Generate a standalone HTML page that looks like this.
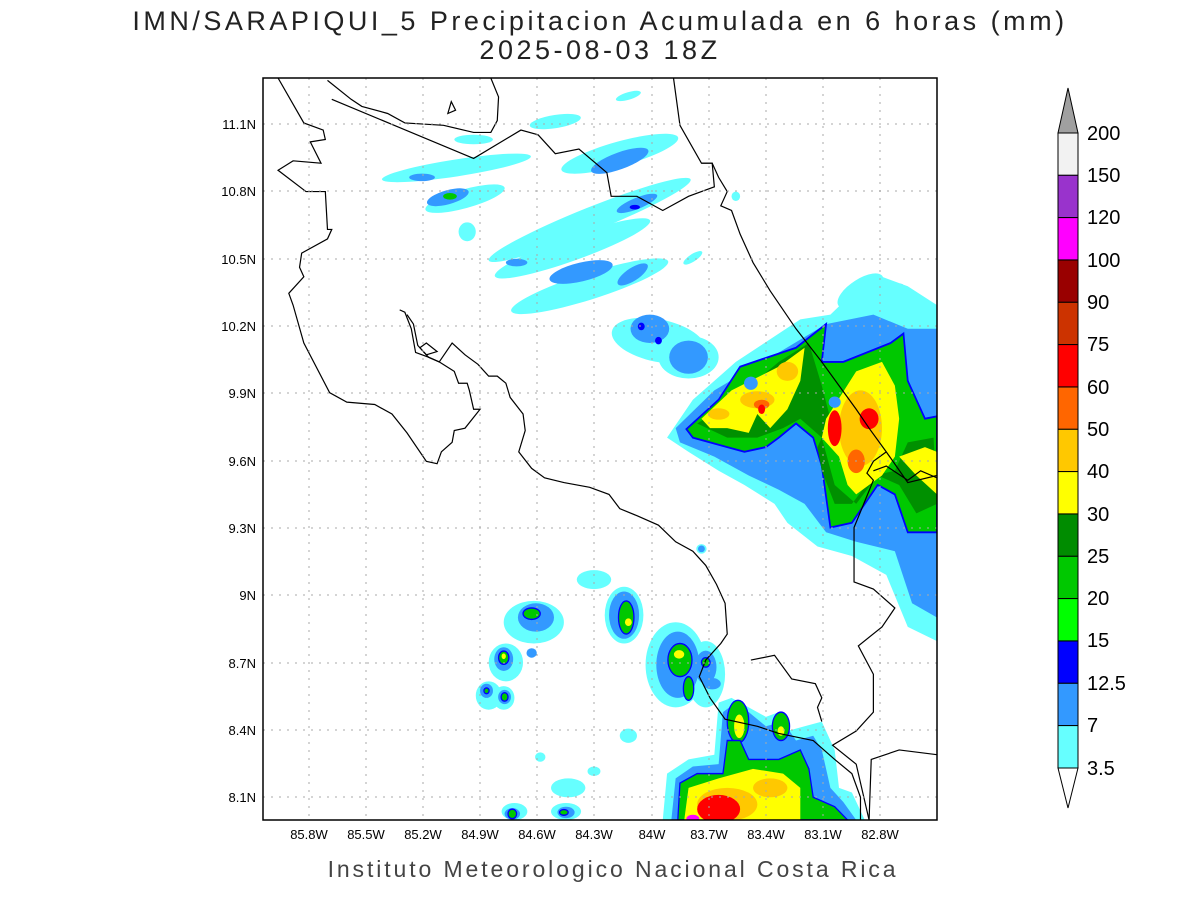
<!DOCTYPE html>
<html><head><meta charset="utf-8"><style>
html,body{margin:0;padding:0;background:#fff;}
svg{display:block;font-family:"Liberation Sans",sans-serif;}
</style></head><body>
<svg width="1200" height="900" viewBox="0 0 1200 900" xmlns="http://www.w3.org/2000/svg">
<rect width="1200" height="900" fill="#fff"/>
<text x="600" y="30" font-size="27" text-anchor="middle" fill="#222" letter-spacing="3.5">IMN/SARAPIQUI_5 Precipitacion Acumulada en 6 horas (mm)</text>
<text x="600" y="59" font-size="27" text-anchor="middle" fill="#222" letter-spacing="3.5">2025-08-03 18Z</text>
<svg x="263" y="78" width="674" height="742" viewBox="0 0 1568 1568" preserveAspectRatio="none" overflow="hidden">
<g>
<g fill="#66ffff">
<ellipse cx="450" cy="190" rx="175" ry="18" transform="rotate(-8 450 190)"/>
<ellipse cx="830" cy="160" rx="140" ry="26" transform="rotate(-14 830 160)"/>
<ellipse cx="470" cy="255" rx="95" ry="20" transform="rotate(-14 470 255)"/>
<ellipse cx="760" cy="300" rx="250" ry="26" transform="rotate(-20 760 300)"/>
<ellipse cx="720" cy="360" rx="190" ry="26" transform="rotate(-18 720 360)"/>
<ellipse cx="760" cy="440" rx="190" ry="28" transform="rotate(-16 760 440)"/>
<ellipse cx="920" cy="555" rx="110" ry="45" transform="rotate(10 920 555)"/>
<ellipse cx="990" cy="590" rx="70" ry="45"/>
<ellipse cx="850" cy="38" rx="30" ry="8" transform="rotate(-15 850 38)"/>
<ellipse cx="490" cy="130" rx="45" ry="10"/>
<ellipse cx="680" cy="92" rx="60" ry="14" transform="rotate(-8 680 92)"/>
<ellipse cx="475" cy="325" rx="20" ry="20"/>
<ellipse cx="1390" cy="450" rx="60" ry="25" transform="rotate(-30 1390 450)"/>
<ellipse cx="1000" cy="380" rx="25" ry="8" transform="rotate(-30 1000 380)"/>
<ellipse cx="1100" cy="250" rx="10" ry="10"/>
</g>
<g fill="#3399ff">
<ellipse cx="370" cy="210" rx="30" ry="8"/>
<ellipse cx="830" cy="175" rx="70" ry="18" transform="rotate(-18 830 175)"/>
<ellipse cx="430" cy="252" rx="50" ry="15" transform="rotate(-14 430 252)"/>
<ellipse cx="870" cy="265" rx="50" ry="12" transform="rotate(-20 870 265)"/>
<ellipse cx="740" cy="410" rx="75" ry="20" transform="rotate(-12 740 410)"/>
<ellipse cx="860" cy="415" rx="40" ry="14" transform="rotate(-30 860 415)"/>
<ellipse cx="590" cy="390" rx="25" ry="8"/>
<ellipse cx="900" cy="530" rx="45" ry="30"/>
<ellipse cx="990" cy="590" rx="45" ry="35"/>
<ellipse cx="1465" cy="455" rx="30" ry="14" transform="rotate(-35 1465 455)"/>
</g>
<g fill="#0000ff"><ellipse cx="880" cy="525" rx="8" ry="8"/><ellipse cx="920" cy="555" rx="8" ry="8"/><ellipse cx="865" cy="273" rx="12" ry="5"/></g>
<ellipse cx="435" cy="250" rx="16" ry="7" fill="#00c800"/>
<polygon fill="#66ffff" points="940,760 1000,680 1100,600 1250,510 1320,500 1400,430 1440,420 1500,440 1568,480 1568,1190 1500,1160 1450,1050 1370,1010 1290,990 1220,940 1190,900 1120,860 1060,830 990,790"/>
<polygon fill="#3399ff" points="960,740 1050,660 1200,580 1310,520 1420,500 1500,530 1568,530 1568,1140 1510,1110 1470,1000 1380,980 1310,960 1260,900 1200,870 1130,840 1050,800 970,770"/>
<polygon fill="#00c800" stroke="#0000ff" stroke-width="4" points="985,742 1060,680 1110,610 1240,570 1310,520 1300,600 1350,600 1460,560 1490,540 1500,640 1540,720 1568,715 1568,960 1500,960 1470,880 1430,860 1370,940 1320,950 1300,820 1280,760 1240,730 1200,760 1170,780 1120,790 1080,780 1000,760"/>
<polygon fill="#009000" points="1010,730 1080,690 1200,600 1270,560 1300,650 1320,720 1290,780 1300,830 1330,900 1370,900 1420,840 1470,830 1500,770 1560,760 1568,900 1520,920 1480,860 1430,840 1380,900 1330,860 1300,760 1250,720 1210,740 1150,760 1080,760"/>
<polygon fill="#ffff00" points="1020,720 1090,660 1200,610 1260,570 1250,640 1220,700 1180,740 1150,710 1130,750 1080,740 1040,740"/>
<polygon fill="#ffff00" points="1310,720 1380,620 1440,600 1470,650 1480,720 1470,800 1440,840 1380,880 1360,860 1340,800 1300,760"/>
<polygon fill="#ffff00" points="1480,800 1540,780 1568,790 1568,880 1520,840"/>
<g fill="#ffc800"><ellipse cx="1150" cy="680" rx="40" ry="18"/><ellipse cx="1220" cy="620" rx="25" ry="20"/><ellipse cx="1390" cy="740" rx="50" ry="80"/><ellipse cx="1060" cy="710" rx="25" ry="12"/></g>
<g fill="#ff6600"><ellipse cx="1380" cy="810" rx="20" ry="25"/><ellipse cx="1160" cy="690" rx="18" ry="10"/></g>
<g fill="#ff0000"><ellipse cx="1330" cy="740" rx="16" ry="38"/><ellipse cx="1410" cy="720" rx="22" ry="22"/><ellipse cx="1160" cy="700" rx="8" ry="10"/></g>
<g fill="#3399ff"><ellipse cx="1135" cy="645" rx="16" ry="14"/><ellipse cx="1330" cy="685" rx="14" ry="12"/></g>
<g fill="#66ffff">
<ellipse cx="770" cy="1060" rx="40" ry="20"/><ellipse cx="630" cy="1150" rx="70" ry="45"/><ellipse cx="840" cy="1135" rx="45" ry="60"/>
<ellipse cx="565" cy="1235" rx="40" ry="40"/><ellipse cx="525" cy="1305" rx="30" ry="30"/><ellipse cx="560" cy="1310" rx="25" ry="25"/>
<ellipse cx="960" cy="1240" rx="70" ry="90"/><ellipse cx="1030" cy="1260" rx="45" ry="70"/><ellipse cx="850" cy="1390" rx="20" ry="15"/>
<ellipse cx="645" cy="1435" rx="12" ry="10"/><ellipse cx="770" cy="1465" rx="15" ry="10"/><ellipse cx="710" cy="1500" rx="40" ry="20"/>
<ellipse cx="585" cy="1550" rx="30" ry="18"/><ellipse cx="705" cy="1550" rx="35" ry="18"/><ellipse cx="1020" cy="995" rx="12" ry="10"/>
<polygon points="930,1568 940,1470 990,1440 1050,1430 1060,1320 1090,1310 1130,1330 1170,1350 1200,1340 1220,1380 1260,1370 1300,1360 1330,1420 1340,1500 1370,1510 1400,1568"/>
</g>
<g fill="#3399ff">
<ellipse cx="635" cy="1140" rx="42" ry="30"/><ellipse cx="840" cy="1135" rx="35" ry="50"/><ellipse cx="560" cy="1228" rx="22" ry="25"/>
<ellipse cx="520" cy="1295" rx="15" ry="15"/><ellipse cx="562" cy="1308" rx="15" ry="15"/><ellipse cx="965" cy="1240" rx="50" ry="70"/>
<ellipse cx="1030" cy="1245" rx="25" ry="35"/><ellipse cx="1045" cy="1280" rx="20" ry="12"/><ellipse cx="625" cy="1215" rx="12" ry="10"/>
<ellipse cx="580" cy="1555" rx="18" ry="12"/><ellipse cx="705" cy="1552" rx="20" ry="12"/><ellipse cx="1020" cy="995" rx="8" ry="7"/>
<polygon points="950,1568 960,1480 1000,1455 1060,1450 1070,1340 1100,1320 1130,1340 1170,1370 1210,1360 1240,1400 1280,1390 1300,1420 1320,1500 1350,1530 1380,1568"/>
</g>
<g fill="#00c800" stroke="#0000ff" stroke-width="3">
<ellipse cx="625" cy="1132" rx="20" ry="12"/><ellipse cx="845" cy="1140" rx="18" ry="35"/><ellipse cx="560" cy="1225" rx="12" ry="14"/>
<ellipse cx="562" cy="1308" rx="8" ry="9"/><ellipse cx="520" cy="1295" rx="6" ry="6"/><ellipse cx="970" cy="1230" rx="28" ry="35"/>
<ellipse cx="990" cy="1290" rx="12" ry="25"/><ellipse cx="1030" cy="1235" rx="10" ry="10"/><ellipse cx="580" cy="1555" rx="10" ry="10"/>
<ellipse cx="700" cy="1552" rx="10" ry="6"/><ellipse cx="1105" cy="1360" rx="25" ry="45"/><ellipse cx="1205" cy="1370" rx="20" ry="30"/>
<polygon points="965,1568 970,1490 1010,1470 1070,1470 1080,1400 1110,1400 1130,1440 1200,1440 1250,1420 1270,1460 1280,1520 1330,1540 1360,1568"/>
</g>
<g fill="#ffff00"><ellipse cx="850" cy="1150" rx="8" ry="8"/><ellipse cx="968" cy="1218" rx="12" ry="9"/><ellipse cx="560" cy="1222" rx="5" ry="6"/>
<ellipse cx="1108" cy="1370" rx="12" ry="25"/><ellipse cx="1205" cy="1380" rx="8" ry="10"/>
<polygon points="980,1568 990,1500 1060,1480 1140,1460 1210,1470 1250,1500 1250,1568"/></g>
<g fill="#ffc800"><ellipse cx="1080" cy="1535" rx="70" ry="35"/><ellipse cx="1180" cy="1500" rx="40" ry="20"/></g>
<g fill="#ff0000"><ellipse cx="1060" cy="1545" rx="50" ry="30"/></g>
<ellipse cx="1000" cy="1565" rx="15" ry="8" fill="#ff00ff"/>
<g fill="none" stroke="#000" stroke-width="1.2">
<polyline vector-effect="non-scaling-stroke" points="35,0 95,95 140,110 145,130 110,135 135,180 70,175 35,195 100,240 145,240 150,320 160,320 150,340 90,370 85,400 95,420 60,455 70,480 95,560 155,665 195,685 260,690 300,710 335,750 380,810 405,815 415,790 440,770 445,745 470,740 505,700 490,700 480,660 475,645 455,645 445,620 410,600 385,590 355,580 345,530 330,495 318,490"/>
<polygon vector-effect="non-scaling-stroke" points="365,570 380,560 405,578 380,585"/>
<polyline vector-effect="non-scaling-stroke" points="335,500 350,520 360,565 385,590 410,600 440,560 470,585 500,605 525,630 545,630 565,645 575,675 605,710 610,745 595,790 625,825 655,845 700,855 760,865 805,880 830,910 870,925 920,945 960,980 1000,1000 1030,1030 1055,1070 1075,1110 1080,1175 1065,1195 1030,1230 1015,1265 1040,1310 1075,1355 1150,1370 1200,1385 1280,1400 1330,1440 1370,1470 1390,1520 1390,1568"/>
<polyline vector-effect="non-scaling-stroke" points="150,5 205,45 230,60 290,75 330,95 420,100 490,115 530,115 545,90 548,40 530,0"/>
<polyline vector-effect="non-scaling-stroke" points="160,45 490,170 600,110 640,120 680,160 735,150 800,200 810,250 870,250 930,280 990,250 1050,230 1045,180 1020,180"/>
<polygon vector-effect="non-scaling-stroke" points="430,75 438,50 448,68"/>
<polyline vector-effect="non-scaling-stroke" points="955,0 970,100 1020,180 1045,180 1060,210 1080,240 1065,270 1090,280 1110,330 1140,390 1180,450 1240,530 1300,600 1340,650 1380,700 1410,740 1450,790 1500,855 1568,840"/>
<polyline vector-effect="non-scaling-stroke" points="1450,790 1420,810 1405,835 1420,850 1375,950 1375,1065 1420,1080 1470,1120 1440,1160 1385,1200 1420,1260 1420,1340 1380,1380 1325,1410 1380,1450 1410,1568"/>
<polyline vector-effect="non-scaling-stroke" points="1410,1568 1415,1440 1480,1420 1568,1430"/>
<polyline vector-effect="non-scaling-stroke" points="1135,1230 1190,1220 1230,1270 1285,1280 1300,1310 1290,1330 1300,1360"/>
<polyline vector-effect="non-scaling-stroke" points="1420,830 1450,820 1500,850 1530,830 1568,845"/>
</g>
</g>
</svg>
<g stroke="#aaa" stroke-width="1" stroke-dasharray="2,6">
<line x1="309" y1="78" x2="309" y2="820"/><line x1="366" y1="78" x2="366" y2="820"/><line x1="423" y1="78" x2="423" y2="820"/><line x1="480" y1="78" x2="480" y2="820"/><line x1="537" y1="78" x2="537" y2="820"/><line x1="594" y1="78" x2="594" y2="820"/><line x1="652" y1="78" x2="652" y2="820"/><line x1="709" y1="78" x2="709" y2="820"/><line x1="766" y1="78" x2="766" y2="820"/><line x1="823" y1="78" x2="823" y2="820"/><line x1="880" y1="78" x2="880" y2="820"/>
<line x1="263" y1="124" x2="937" y2="124"/><line x1="263" y1="191" x2="937" y2="191"/><line x1="263" y1="259" x2="937" y2="259"/><line x1="263" y1="326" x2="937" y2="326"/><line x1="263" y1="393" x2="937" y2="393"/><line x1="263" y1="461" x2="937" y2="461"/><line x1="263" y1="528" x2="937" y2="528"/><line x1="263" y1="595" x2="937" y2="595"/><line x1="263" y1="663" x2="937" y2="663"/><line x1="263" y1="730" x2="937" y2="730"/><line x1="263" y1="797" x2="937" y2="797"/>
</g>
<rect x="263" y="78" width="674" height="742" fill="none" stroke="#000" stroke-width="1.5"/>
<g font-size="13" fill="#000" text-anchor="end">
<text x="256" y="129">11.1N</text><text x="256" y="196">10.8N</text><text x="256" y="264">10.5N</text><text x="256" y="331">10.2N</text><text x="256" y="398">9.9N</text><text x="256" y="466">9.6N</text><text x="256" y="533">9.3N</text><text x="256" y="600">9N</text><text x="256" y="668">8.7N</text><text x="256" y="735">8.4N</text><text x="256" y="802">8.1N</text>
</g>
<g font-size="13" fill="#000" text-anchor="middle">
<text x="309" y="839">85.8W</text><text x="366" y="839">85.5W</text><text x="423" y="839">85.2W</text><text x="480" y="839">84.9W</text><text x="537" y="839">84.6W</text><text x="594" y="839">84.3W</text><text x="652" y="839">84W</text><text x="709" y="839">83.7W</text><text x="766" y="839">83.4W</text><text x="823" y="839">83.1W</text><text x="880" y="839">82.8W</text>
</g>
<text x="613" y="877" font-size="23" text-anchor="middle" fill="#444" letter-spacing="2.9">Instituto Meteorologico Nacional Costa Rica</text>
<g stroke="#000" stroke-width="1">
<polygon points="1058,133 1068,88 1078,133" fill="#a0a0a0"/>
<rect x="1058" y="133" width="20" height="42.3" fill="#f2f2f2"/>
<rect x="1058" y="175.3" width="20" height="42.3" fill="#9933cc"/>
<rect x="1058" y="217.6" width="20" height="42.3" fill="#ff00ff"/>
<rect x="1058" y="260" width="20" height="42.3" fill="#990000"/>
<rect x="1058" y="302.3" width="20" height="42.3" fill="#cc3300"/>
<rect x="1058" y="344.6" width="20" height="42.3" fill="#ff0000"/>
<rect x="1058" y="387" width="20" height="42.3" fill="#ff6600"/>
<rect x="1058" y="429.3" width="20" height="42.3" fill="#ffc800"/>
<rect x="1058" y="471.6" width="20" height="42.3" fill="#ffff00"/>
<rect x="1058" y="514" width="20" height="42.3" fill="#008c00"/>
<rect x="1058" y="556.3" width="20" height="42.3" fill="#00c800"/>
<rect x="1058" y="598.6" width="20" height="42.3" fill="#00ff00"/>
<rect x="1058" y="641" width="20" height="42.3" fill="#0000ff"/>
<rect x="1058" y="683.3" width="20" height="42.3" fill="#3399ff"/>
<rect x="1058" y="725.6" width="20" height="42.4" fill="#66ffff"/>
<polygon points="1058,768 1068,808 1078,768" fill="#fff"/>
</g>
<g font-size="20" fill="#000">
<text x="1087" y="140">200</text><text x="1087" y="182">150</text><text x="1087" y="224">120</text><text x="1087" y="267">100</text><text x="1087" y="309">90</text><text x="1087" y="351">75</text><text x="1087" y="394">60</text><text x="1087" y="436">50</text><text x="1087" y="478">40</text><text x="1087" y="521">30</text><text x="1087" y="563">25</text><text x="1087" y="605">20</text><text x="1087" y="647">15</text><text x="1087" y="690">12.5</text><text x="1087" y="732">7</text><text x="1087" y="775">3.5</text>
</g>
</svg>
</body></html>
